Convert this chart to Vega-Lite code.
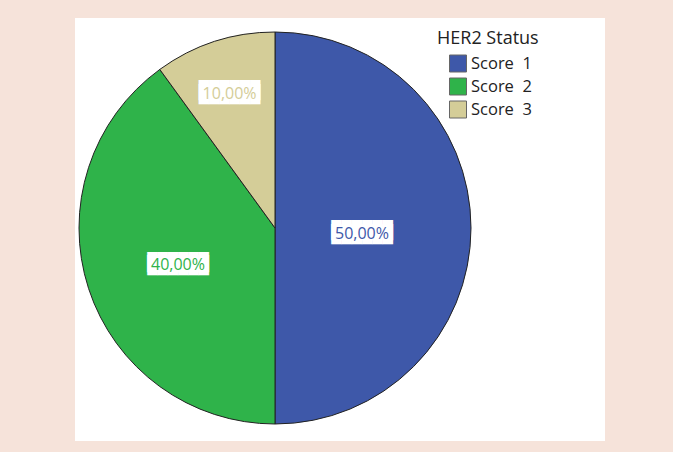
{
  "$schema": "https://vega.github.io/schema/vega-lite/v6.json",
  "width": 673,
  "height": 452,
  "autosize": {"type": "fit", "contains": "padding"},
  "padding": {"left": 75, "top": 18, "right": 68, "bottom": 11},
  "background": "#f6e3da",
  "view": {"fill": "white", "stroke": "white", "strokeWidth": 0},
  "config": {
    "style": {"cell": {"fill": "white"}},
    "locale": {"number": {"decimal": ",", "thousands": ".", "grouping": [3], "currency": ["", " €"]}}
  },
  "data": {
    "values": [
      {"status": "Score 1", "share": 0.5},
      {"status": "Score 2", "share": 0.4},
      {"status": "Score 3", "share": 0.1}
    ]
  },
  "encoding": {
    "theta": {"field": "share", "type": "quantitative", "stack": true},
    "order": {"field": "share", "type": "quantitative", "sort": "descending"}
  },
  "layer": [
    {
      "mark": {"type": "arc", "radius": 196, "xOffset": -65, "yOffset": -1.5, "stroke": "#222222", "strokeWidth": 1},
      "encoding": {
        "color": {
          "field": "status",
          "type": "nominal",
          "scale": {"domain": ["Score 1", "Score 2", "Score 3"], "range": ["#3e58a9", "#2fb34a", "#d4cd98"]},
          "legend": {
            "title": "HER2 Status",
            "orient": "none",
            "legendX": 362,
            "legendY": 12,
            "titleFont": "Open Sans",
            "titleFontSize": 18,
            "titleFontWeight": "normal",
            "titleColor": "#222222",
            "titlePadding": 6.5,
            "labelFont": "Open Sans",
            "labelFontSize": 16.5,
            "labelColor": "#222222",
            "labelOffset": 4,
            "labelExpr": "replace(datum.label, ' ', '\u00a0 ')",
            "symbolType": "square",
            "symbolSize": 289,
            "symbolStrokeColor": "#666666",
            "symbolStrokeWidth": 1,
            "symbolOffset": 12,
            "rowPadding": 1,
            "padding": 0
          }
        }
      }
    },
    {
      "mark": {"type": "text", "xOffset": -65, "yOffset": 1.5, "fill": "white", "font": "DejaVu Sans Mono", "fontSize": 17},
      "encoding": {
        "detail": {"field": "status", "type": "nominal"},
        "radius": {"field": "share", "type": "quantitative", "scale": {"domain": [0.1, 0.5], "range": [147, 87], "zero": false}, "legend": null},
        "text": {"value": "██████"}
      }
    },
    {
      "mark": {"type": "text", "xOffset": -65, "yOffset": 5, "fill": "white", "font": "DejaVu Sans Mono", "fontSize": 17},
      "encoding": {
        "detail": {"field": "status", "type": "nominal"},
        "radius": {"field": "share", "type": "quantitative", "legend": null},
        "text": {"value": "██████"}
      }
    },
    {
      "mark": {"type": "text", "xOffset": -65, "yOffset": 4, "font": "Open Sans", "fontSize": 16},
      "encoding": {
        "color": {"field": "status", "type": "nominal", "legend": null},
        "radius": {"field": "share", "type": "quantitative", "legend": null},
        "text": {"field": "share", "type": "quantitative", "format": ".2%"}
      }
    }
  ]
}
